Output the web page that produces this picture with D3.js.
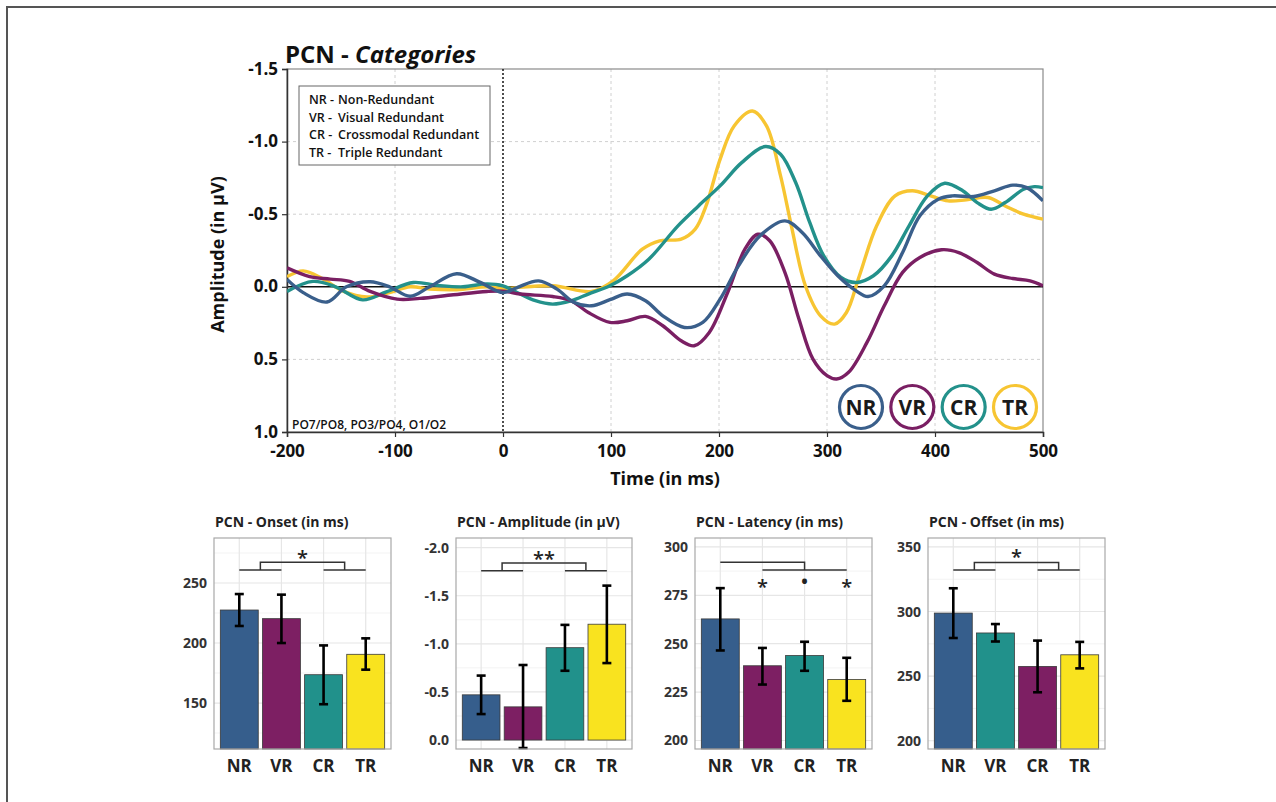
<!DOCTYPE html>
<html>
<head>
<meta charset="utf-8">
<script src="https://cdn.jsdelivr.net/npm/d3@7"></script>
<style>
  body { margin: 0; background: #fff; }
  svg text { font-family: "Open Sans", "Noto Sans", sans-serif; }
</style>
</head>
<body>
<svg id="fig" width="1276" height="802"></svg>
<script>
// ---- data ----
const groups = ['NR', 'VR', 'CR', 'TR'];
const groupNames = ['Non-Redundant', 'Visual Redundant', 'Crossmodal Redundant', 'Triple Redundant'];
const lineColours = { NR: '#3a5f8b', VR: '#7a1f63', CR: '#23918b', TR: '#f7c532' };
const barColours = { NR: '#365e8c', VR: '#7d1f63', CR: '#21918b', TR: '#f9e31f' };

// waveforms (time in ms, amplitude in µV)
const nrTime = [-200, -185, -163, -145, -123, -105, -86, -68, -43, -21, 0, 13, 33, 50, 66, 82, 99, 115, 132, 148, 168, 185, 201, 218, 238, 261, 277, 294, 310, 327, 338, 353, 370, 386, 403, 416, 436, 455, 472, 485, 500];
const nrAmp = [-0.05, 0.04, 0.105, 0.0, -0.035, 0.0, 0.065, 0.0, -0.09, -0.03, 0.04, 0.005, -0.041, 0.016, 0.108, 0.131, 0.089, 0.05, 0.096, 0.2, 0.28, 0.245, 0.085, -0.144, -0.351, -0.454, -0.374, -0.213, -0.076, 0.028, 0.067, -0.007, -0.236, -0.489, -0.603, -0.626, -0.622, -0.661, -0.7, -0.683, -0.592];

const vrTime = [-200, -179, -160, -142, -123, -98, -77, -46, -15, 0, 16, 46, 63, 79, 99, 115, 132, 148, 165, 177, 191, 208, 224, 236, 247, 261, 274, 287, 300, 309, 320, 337, 353, 370, 386, 406, 422, 439, 455, 472, 488, 500];
const vrAmp = [-0.13, -0.07, -0.053, -0.037, 0.032, 0.085, 0.08, 0.055, 0.032, 0.03, 0.05, 0.067, 0.096, 0.177, 0.245, 0.234, 0.204, 0.268, 0.372, 0.406, 0.314, 0.039, -0.259, -0.362, -0.317, -0.099, 0.222, 0.498, 0.612, 0.635, 0.589, 0.383, 0.131, -0.099, -0.202, -0.255, -0.236, -0.167, -0.087, -0.057, -0.041, -0.007];

const crTime = [-200, -176, -155, -130, -108, -83, -61, -37, -15, 0, 13, 30, 46, 63, 79, 99, 115, 135, 162, 181, 201, 221, 243, 257, 271, 284, 297, 313, 327, 343, 360, 376, 393, 409, 426, 439, 452, 465, 482, 492, 500];
const crAmp = [0.032, -0.037, 0.0, 0.09, 0.035, -0.03, -0.01, 0.0, -0.02, -0.007, 0.039, 0.096, 0.119, 0.096, 0.05, -0.007, -0.076, -0.19, -0.42, -0.557, -0.695, -0.855, -0.966, -0.913, -0.718, -0.443, -0.213, -0.064, -0.03, -0.076, -0.213, -0.42, -0.626, -0.713, -0.66, -0.58, -0.534, -0.58, -0.672, -0.69, -0.683];

const trTime = [-200, -185, -167, -148, -126, -105, -86, -68, -43, -15, 0, 46, 82, 102, 129, 145, 165, 178, 188, 201, 214, 231, 244, 257, 267, 280, 294, 307, 318, 330, 346, 363, 379, 396, 412, 429, 449, 465, 482, 500];
const trAmp = [-0.07, -0.11, -0.055, 0.03, 0.07, 0.04, 0.0, 0.015, 0.02, 0.0, 0.01, -0.007, 0.032, -0.041, -0.259, -0.317, -0.328, -0.397, -0.557, -0.878, -1.108, -1.211, -1.108, -0.764, -0.42, -0.007, 0.2, 0.257, 0.177, -0.076, -0.42, -0.626, -0.661, -0.626, -0.592, -0.599, -0.615, -0.557, -0.5, -0.466];

const timeTicks = [-200, -100, 0, 100, 200, 300, 400, 500];
const ampTicks = [-1.5, -1.0, -0.5, 0.0, 0.5, 1.0];

// bar panels: mean and error bar ends
const onsetMean = [227.5, 220.3, 173.6, 190.6];
const onsetLo = [214.2, 200.0, 149.0, 177.8];
const onsetHi = [240.8, 240.3, 198.0, 203.9];
const onsetTicks = [150, 200, 250];

const amplitudeMean = [-0.47, -0.345, -0.96, -1.204];
const amplitudeLo = [-0.27, 0.083, -0.72, -0.80];
const amplitudeHi = [-0.67, -0.78, -1.197, -1.605];
const amplitudeTicks = [0.0, -0.5, -1.0, -1.5, -2.0];

const latencyMean = [262.8, 238.6, 243.9, 231.5];
const latencyLo = [246.5, 228.9, 236.0, 220.5];
const latencyHi = [278.7, 247.8, 251.0, 242.7];
const latencyTicks = [200, 225, 250, 275, 300];

const offsetMean = [298.8, 283.4, 257.5, 266.5];
const offsetLo = [279.5, 276.8, 237.5, 256.0];
const offsetHi = [318.0, 290.3, 277.5, 276.5];
const offsetTicks = [200, 250, 300, 350];
const offsetFill = ['NR', 'CR', 'VR', 'TR'];   // colours used for the offset bars

// ---- figure ----
const svg = d3.select('#fig');
const FONT = '"Open Sans", "Noto Sans", sans-serif';

// outer frame
svg.append('path')
  .attr('d', 'M7,802 L7,7 L1276,7')
  .attr('fill', 'none').attr('stroke', '#555').attr('stroke-width', 2);

// ===== main ERP plot =====
const main = { left: 287, right: 1043, top: 69, bottom: 432 };
const x = d3.scaleLinear().domain([-200, 500]).range([main.left, main.right]);
const y = d3.scaleLinear().domain([-1.5, 1.0]).range([main.top, main.bottom]);

const g = svg.append('g');

// grid
g.selectAll('.vgrid').data(timeTicks.filter(t => t !== 0 && t !== -200 && t !== 500))
  .enter().append('line')
  .attr('x1', d => x(d)).attr('x2', d => x(d))
  .attr('y1', main.top).attr('y2', main.bottom)
  .attr('stroke', '#d0d0d0').attr('stroke-dasharray', '3,3');
g.selectAll('.hgrid').data(ampTicks.filter(a => a !== 0 && a !== -1.5 && a !== 1.0))
  .enter().append('line')
  .attr('x1', main.left).attr('x2', main.right)
  .attr('y1', d => y(d)).attr('y2', d => y(d))
  .attr('stroke', '#d0d0d0').attr('stroke-dasharray', '3,3');

// frame
g.append('rect')
  .attr('x', main.left).attr('y', main.top)
  .attr('width', main.right - main.left).attr('height', main.bottom - main.top)
  .attr('fill', 'none').attr('stroke', '#8a8a8a').attr('stroke-width', 1.2);

// zero lines
g.append('line')
  .attr('x1', main.left).attr('x2', main.right).attr('y1', y(0)).attr('y2', y(0))
  .attr('stroke', '#111').attr('stroke-width', 1.5);
g.append('line')
  .attr('x1', x(0)).attr('x2', x(0)).attr('y1', main.top).attr('y2', main.bottom)
  .attr('stroke', '#222').attr('stroke-width', 1.6).attr('stroke-dasharray', '2,2');

// axes
const xAxis = g.append('g')
  .attr('transform', `translate(0,${main.bottom})`)
  .call(d3.axisBottom(x).tickValues(timeTicks).tickSize(5).tickPadding(8).tickFormat(d => String(d)));
const yAxis = g.append('g')
  .attr('transform', `translate(${main.left},0)`)
  .call(d3.axisLeft(y).tickValues(ampTicks).tickSize(5).tickPadding(4).tickFormat(d => d.toFixed(1)));
[xAxis, yAxis].forEach(ax => {
  ax.select('.domain').attr('stroke', '#333').attr('stroke-width', 1.5);
  ax.selectAll('.tick line').attr('stroke', '#333').attr('stroke-width', 1.2);
  ax.selectAll('.tick text')
    .attr('font-family', FONT).attr('font-size', 17).attr('font-weight', 700).attr('fill', '#111');
});
yAxis.selectAll('.tick text').attr('dy', '0.3em');

// axis titles
svg.append('text')
  .attr('transform', `translate(224,${(main.top + main.bottom) / 2 + 4}) rotate(-90)`)
  .attr('text-anchor', 'middle')
  .attr('font-size', 18).attr('font-weight', 700).attr('fill', '#111')
  .text('Amplitude (in µV)');
svg.append('text')
  .attr('x', (main.left + main.right) / 2).attr('y', 485)
  .attr('text-anchor', 'middle')
  .attr('font-size', 18).attr('font-weight', 700).attr('fill', '#111')
  .text('Time (in ms)');

// title
const title = svg.append('text').attr('x', 285).attr('y', 63)
  .attr('font-size', 24).attr('font-weight', 700).attr('fill', '#111');
title.append('tspan').text('PCN - ');
title.append('tspan').attr('font-style', 'italic').text('Categories');

// waveforms
svg.append('clipPath').attr('id', 'plotClip').append('rect')
  .attr('x', main.left).attr('y', main.top)
  .attr('width', main.right - main.left).attr('height', main.bottom - main.top);

const waves = [
  { key: 'TR', t: trTime, a: trAmp },
  { key: 'CR', t: crTime, a: crAmp },
  { key: 'VR', t: vrTime, a: vrAmp },
  { key: 'NR', t: nrTime, a: nrAmp }
];
const line = d3.line()
  .x(d => x(d[0])).y(d => y(d[1]))
  .curve(d3.curveCatmullRom.alpha(0.5));

g.append('g').attr('clip-path', 'url(#plotClip)')
  .selectAll('path').data(waves).enter().append('path')
  .attr('d', w => line(w.t.map((t, i) => [t, w.a[i]])))
  .attr('fill', 'none')
  .attr('stroke', w => lineColours[w.key])
  .attr('stroke-width', 3.4)
  .attr('stroke-linejoin', 'round');

// legend box
const legend = svg.append('g').attr('transform', 'translate(299,86)');
legend.append('rect').attr('width', 191).attr('height', 79)
  .attr('fill', '#fff').attr('stroke', '#666').attr('stroke-width', 1);
groups.forEach((k, i) => {
  legend.append('text').attr('x', 10).attr('y', 18 + i * 17.5)
    .attr('font-size', 12.5).attr('font-weight', 600).attr('fill', '#111')
    .text(k + ' -');
  legend.append('text').attr('x', 39).attr('y', 18 + i * 17.5)
    .attr('font-size', 12.5).attr('font-weight', 600).attr('fill', '#111')
    .text(groupNames[i]);
});

// electrode note
svg.append('text').attr('x', 292).attr('y', 429)
  .attr('font-size', 12).attr('font-weight', 600).attr('fill', '#111')
  .text('PO7/PO8, PO3/PO4, O1/O2');

// circled labels
const badgeX = d3.scalePoint().domain(groups).range([861, 1015]);
const badges = svg.selectAll('.badge').data(groups).enter().append('g')
  .attr('transform', d => `translate(${badgeX(d)},407)`);
badges.append('circle').attr('r', 21.5)
  .attr('fill', '#fff').attr('stroke', d => lineColours[d]).attr('stroke-width', 3.2);
badges.append('text').attr('text-anchor', 'middle').attr('dy', '0.36em')
  .attr('font-size', 21).attr('font-weight', 700).attr('fill', '#1a1a1a')
  .text(d => d);

// ===== bar panels =====
function midTicks(ticks, lo, hi) {
  const step = Math.abs(ticks[1] - ticks[0]);
  const out = [];
  const a = Math.min(lo, hi), b = Math.max(lo, hi);
  let v = Math.ceil((a - step / 2) / step) * step + step / 2;
  for (; v <= b; v += step) out.push(v);
  return out;
}

function barPanel(cfg) {
  const top = 538, bottom = 749;
  const p = svg.append('g');
  const bx = d3.scaleBand().domain(groups).range([cfg.left, cfg.right])
    .paddingInner(0.1).paddingOuter(0.15);
  const by = d3.scaleLinear().domain(cfg.domain).range([bottom, top]);

  // grid
  p.selectAll('.minor').data(midTicks(cfg.ticks, cfg.domain[0], cfg.domain[1]))
    .enter().append('line')
    .attr('x1', cfg.left).attr('x2', cfg.right)
    .attr('y1', d => by(d)).attr('y2', d => by(d))
    .attr('stroke', '#f3f3f3').attr('stroke-width', 1);
  p.selectAll('.major').data(cfg.ticks).enter().append('line')
    .attr('x1', cfg.left).attr('x2', cfg.right)
    .attr('y1', d => by(d)).attr('y2', d => by(d))
    .attr('stroke', '#e6e6e6').attr('stroke-width', 1.2);
  p.selectAll('.vg').data(groups).enter().append('line')
    .attr('x1', d => bx(d) + bx.bandwidth() / 2).attr('x2', d => bx(d) + bx.bandwidth() / 2)
    .attr('y1', top).attr('y2', bottom)
    .attr('stroke', '#e6e6e6').attr('stroke-width', 1.2);

  // bars
  const base = cfg.base;
  p.selectAll('.bar').data(groups).enter().append('rect')
    .attr('x', d => bx(d))
    .attr('width', bx.bandwidth())
    .attr('y', (d, i) => Math.min(by(cfg.mean[i]), by(base)))
    .attr('height', (d, i) => Math.abs(by(base) - by(cfg.mean[i])))
    .attr('fill', (d, i) => barColours[cfg.fill[i]])
    .attr('stroke', '#3a3a3a').attr('stroke-width', 0.8);

  // error bars
  const cx = d => bx(d) + bx.bandwidth() / 2;
  const eb = p.selectAll('.err').data(groups).enter().append('g');
  eb.append('line')
    .attr('x1', cx).attr('x2', cx)
    .attr('y1', (d, i) => by(cfg.lo[i])).attr('y2', (d, i) => by(cfg.hi[i]));
  eb.append('line')
    .attr('x1', d => cx(d) - 4.5).attr('x2', d => cx(d) + 4.5)
    .attr('y1', (d, i) => by(cfg.lo[i])).attr('y2', (d, i) => by(cfg.lo[i]));
  eb.append('line')
    .attr('x1', d => cx(d) - 4.5).attr('x2', d => cx(d) + 4.5)
    .attr('y1', (d, i) => by(cfg.hi[i])).attr('y2', (d, i) => by(cfg.hi[i]));
  eb.selectAll('line').attr('stroke', '#000').attr('stroke-width', 2.6);

  // panel border
  p.append('rect').attr('x', cfg.left).attr('y', top)
    .attr('width', cfg.right - cfg.left).attr('height', bottom - top)
    .attr('fill', 'none').attr('stroke', '#a8a8a8').attr('stroke-width', 1.2);

  // axes
  const ya = p.append('g').attr('transform', `translate(${cfg.left},0)`)
    .call(d3.axisLeft(by).tickValues(cfg.ticks).tickSize(0).tickPadding(7).tickFormat(cfg.fmt));
  const xa = p.append('g').attr('transform', `translate(0,${bottom})`)
    .call(d3.axisBottom(bx).tickSize(0).tickPadding(11));
  ya.select('.domain').remove();
  xa.select('.domain').remove();
  ya.selectAll('text').attr('font-family', FONT).attr('font-size', 14)
    .attr('font-weight', 700).attr('fill', '#333');
  xa.selectAll('text').attr('font-family', FONT).attr('font-size', 17)
    .attr('font-weight', 700).attr('fill', '#222');

  // title
  p.append('text').attr('x', cfg.left + 1).attr('y', 527)
    .attr('font-size', 14).attr('font-weight', 700).attr('fill', '#222')
    .text(cfg.title);

  // significance
  const sig = p.append('g').attr('stroke', '#333').attr('stroke-width', 1.5).attr('fill', 'none');
  cfg.sig(sig, bx, by, cx);
}

function pairBracket(sig, by, cx, lowLevel, highLevel, starLevel, label, parent) {
  const mA = (cx('NR') + cx('VR')) / 2, mB = (cx('CR') + cx('TR')) / 2;
  sig.append('line').attr('x1', cx('NR')).attr('x2', cx('VR')).attr('y1', by(lowLevel)).attr('y2', by(lowLevel));
  sig.append('line').attr('x1', cx('CR')).attr('x2', cx('TR')).attr('y1', by(lowLevel)).attr('y2', by(lowLevel));
  sig.append('path')
    .attr('d', `M${mA},${by(lowLevel)} V${by(highLevel)} H${mB} V${by(lowLevel)}`);
  parent.append('text').attr('x', (mA + mB) / 2).attr('y', by(starLevel))
    .attr('dy', '0.6em').attr('text-anchor', 'middle')
    .attr('font-size', 20).attr('font-weight', 600).attr('fill', '#222')
    .text(label);
}

barPanel({
  left: 214, right: 391, domain: [111.7, 287.5], ticks: onsetTicks, base: 111.7,
  mean: onsetMean, lo: onsetLo, hi: onsetHi, fill: groups,
  fmt: d => String(d), title: 'PCN - Onset (in ms)',
  sig: (s, bx, by, cx) => pairBracket(s, by, cx, 260.8, 267.3, 275, '*', svg)
});
barPanel({
  left: 456, right: 632, domain: [0.093, -2.1], ticks: amplitudeTicks, base: 0,
  mean: amplitudeMean, lo: amplitudeLo, hi: amplitudeHi, fill: groups,
  fmt: d => d.toFixed(1), title: 'PCN - Amplitude (in µV)',
  sig: (s, bx, by, cx) => pairBracket(s, by, cx, -1.76, -1.84, -1.936, '**', svg)
});
barPanel({
  left: 695, right: 872, domain: [195.6, 304.6], ticks: latencyTicks, base: 195.6,
  mean: latencyMean, lo: latencyLo, hi: latencyHi, fill: groups,
  fmt: d => String(d), title: 'PCN - Latency (in ms)',
  sig: (s, bx, by, cx) => {
    s.append('path').attr('d', `M${cx('NR')},${by(292.1)} H${cx('CR')} V${by(288.1)}`);
    s.append('line').attr('x1', cx('VR')).attr('x2', cx('TR')).attr('y1', by(288.1)).attr('y2', by(288.1));
    [['VR', '*'], ['CR', '•'], ['TR', '*']].forEach(([k, lab]) => {
      svg.append('text').attr('x', cx(k)).attr('y', by(282.1))
        .attr('dy', lab === '*' ? '0.6em' : '0.35em').attr('text-anchor', 'middle')
        .attr('font-size', 20).attr('font-weight', 600).attr('fill', '#222')
        .text(lab);
    });
  }
});
barPanel({
  left: 928, right: 1105, domain: [193.6, 356.9], ticks: offsetTicks, base: 193.6,
  mean: offsetMean, lo: offsetLo, hi: offsetHi, fill: offsetFill,
  fmt: d => String(d), title: 'PCN - Offset (in ms)',
  sig: (s, bx, by, cx) => pairBracket(s, by, cx, 332.1, 338, 346.2, '*', svg)
});
</script>
</body>
</html>
